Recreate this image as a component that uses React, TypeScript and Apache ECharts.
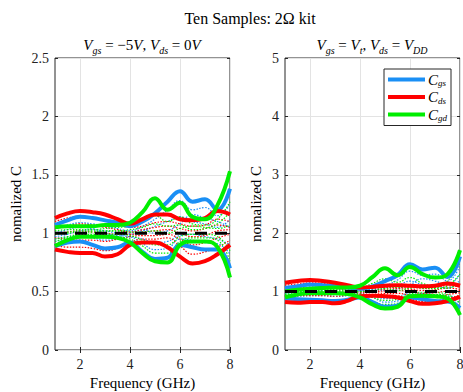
import React, { useEffect, useRef } from "react";
import * as echarts from "echarts";

// Frequency samples (GHz)
const freq = [1, 1.5, 2, 2.5, 3, 3.5, 4, 4.5, 5, 5.5, 6, 6.5, 7, 7.5, 8];
const xTicks = [2, 4, 6, 8];

// ---- Left panel: Vgs = -5V, Vds = 0V ----
const L_cgsHi = [1.07, 1.11, 1.14, 1.13, 1.11, 1.09, 1.06, 1.1, 1.17, 1.27, 1.36, 1.27, 1.29, 1.2, 1.38];
const L_cgsLo = [0.89, 0.92, 0.93, 0.9, 0.87, 0.88, 0.92, 0.84, 0.78, 0.79, 0.9, 0.88, 0.86, 0.86, 0.7];
const L_cdsHi = [1.13, 1.17, 1.19, 1.18, 1.16, 1.12, 1.08, 1.12, 1.16, 1.16, 1.12, 1.11, 1.13, 1.19, 1.16];
const L_cdsLo = [0.86, 0.84, 0.83, 0.83, 0.8, 0.82, 0.9, 0.92, 0.92, 0.88, 0.8, 0.74, 0.76, 0.82, 0.9];
const L_cgdHi = [1.05, 1.06, 1.06, 1.06, 1.07, 1.07, 1.09, 1.18, 1.3, 1.2, 1.26, 1.14, 1.12, 1.24, 1.53];
const L_cgdLo = [0.89, 0.94, 0.97, 0.97, 0.97, 0.96, 0.92, 0.83, 0.76, 0.75, 0.9, 0.93, 0.93, 0.88, 0.62];

const L_cgsDots = [
  [1.04, 1.07, 1.09, 1.08, 1.06, 1.04, 1.02, 1.06, 1.12, 1.2, 1.28, 1.2, 1.22, 1.15, 1.25],
  [0.97, 0.99, 1.02, 1.03, 1.02, 1.0, 0.99, 1.02, 1.06, 1.1, 1.14, 1.1, 1.08, 1.05, 1.12],
  [0.93, 0.95, 0.97, 0.96, 0.94, 0.95, 0.97, 0.95, 0.92, 0.93, 0.98, 0.99, 0.97, 0.95, 0.9],
  [1.0, 1.03, 1.05, 1.04, 1.0, 0.98, 0.97, 0.91, 0.86, 0.87, 0.95, 0.94, 0.92, 0.91, 0.82],
  [0.95, 0.97, 0.98, 0.97, 0.96, 0.97, 1.0, 1.03, 1.0, 1.02, 1.08, 1.16, 1.13, 1.1, 1.05],
];
const L_cdsDots = [
  [1.1, 1.13, 1.14, 1.13, 1.11, 1.08, 1.05, 1.06, 1.09, 1.1, 1.08, 1.06, 1.07, 1.12, 1.1],
  [1.04, 1.06, 1.08, 1.07, 1.05, 1.03, 1.01, 1.03, 1.05, 1.06, 1.04, 1.02, 1.04, 1.07, 1.05],
  [0.96, 0.95, 0.94, 0.94, 0.93, 0.95, 0.97, 0.98, 0.98, 0.99, 0.95, 0.9, 0.92, 0.96, 0.99],
  [0.9, 0.88, 0.88, 0.87, 0.85, 0.87, 0.92, 0.95, 0.95, 0.96, 0.89, 0.82, 0.84, 0.88, 0.94],
  [1.0, 1.01, 1.02, 1.01, 1.0, 0.99, 0.99, 1.01, 1.02, 1.03, 1.0, 0.97, 0.98, 1.02, 1.03],
];
const L_cgdDots = [
  [1.02, 1.03, 1.03, 1.03, 1.04, 1.05, 1.06, 1.1, 1.15, 1.1, 1.14, 1.08, 1.07, 1.12, 1.27],
  [0.99, 1.0, 1.01, 1.01, 1.02, 1.02, 1.03, 1.05, 1.08, 1.06, 1.07, 1.03, 1.04, 1.08, 1.18],
  [0.95, 0.97, 0.99, 0.99, 0.99, 0.99, 0.98, 0.94, 0.9, 0.9, 0.97, 0.99, 0.99, 0.97, 0.85],
  [0.93, 0.96, 0.98, 0.98, 0.98, 0.97, 0.95, 0.89, 0.83, 0.83, 0.93, 0.96, 0.96, 0.94, 0.76],
  [1.0, 1.01, 1.02, 1.02, 1.02, 1.02, 1.01, 1.01, 1.02, 1.0, 1.04, 1.06, 1.05, 1.04, 1.07],
];

// ---- Right panel: Vgs = Vt, Vds = VDD ----
const R_cgsHi = [1.06, 1.09, 1.12, 1.11, 1.09, 1.07, 1.05, 1.09, 1.18, 1.28, 1.47, 1.38, 1.41, 1.25, 1.6];
const R_cgsLo = [0.88, 0.87, 0.86, 0.85, 0.84, 0.86, 0.9, 0.82, 0.74, 0.76, 0.9, 0.87, 0.84, 0.83, 0.72];
const R_cdsHi = [1.15, 1.18, 1.2, 1.18, 1.15, 1.11, 1.07, 1.08, 1.1, 1.11, 1.1, 1.09, 1.1, 1.14, 1.1];
const R_cdsLo = [0.82, 0.81, 0.82, 0.82, 0.8, 0.84, 0.92, 0.93, 0.92, 0.9, 0.84, 0.79, 0.8, 0.84, 0.91];
const R_cgdHi = [1.0, 1.03, 1.05, 1.06, 1.07, 1.07, 1.1, 1.25, 1.4, 1.28, 1.42, 1.3, 1.24, 1.3, 1.71];
const R_cgdLo = [0.9, 0.95, 0.97, 0.97, 0.97, 0.96, 0.9, 0.78, 0.71, 0.74, 0.92, 0.93, 0.92, 0.88, 0.6];

const R_cgsDots = [
  [1.03, 1.06, 1.08, 1.07, 1.05, 1.03, 1.02, 1.05, 1.1, 1.2, 1.35, 1.28, 1.3, 1.18, 1.45],
  [0.97, 0.99, 1.01, 1.01, 1.0, 0.99, 0.99, 1.02, 1.06, 1.1, 1.18, 1.12, 1.1, 1.06, 1.2],
  [0.92, 0.92, 0.93, 0.93, 0.92, 0.93, 0.96, 0.93, 0.88, 0.9, 0.98, 0.97, 0.95, 0.93, 0.88],
  [0.99, 1.01, 1.03, 1.02, 0.99, 0.97, 0.96, 0.9, 0.82, 0.84, 0.95, 0.93, 0.9, 0.89, 0.8],
  [0.95, 0.96, 0.98, 0.97, 0.96, 0.97, 1.0, 1.04, 1.02, 1.05, 1.12, 1.22, 1.18, 1.12, 1.3],
];
const R_cdsDots = [
  [1.11, 1.13, 1.15, 1.14, 1.11, 1.08, 1.05, 1.06, 1.07, 1.08, 1.07, 1.06, 1.07, 1.1, 1.08],
  [1.04, 1.06, 1.07, 1.06, 1.05, 1.03, 1.01, 1.02, 1.04, 1.05, 1.04, 1.02, 1.03, 1.06, 1.04],
  [0.94, 0.93, 0.93, 0.93, 0.92, 0.94, 0.97, 0.98, 0.97, 0.97, 0.94, 0.9, 0.91, 0.95, 0.98],
  [0.87, 0.86, 0.86, 0.86, 0.84, 0.87, 0.93, 0.95, 0.94, 0.93, 0.88, 0.83, 0.84, 0.88, 0.94],
  [1.0, 1.01, 1.01, 1.0, 0.99, 0.99, 0.99, 1.0, 1.01, 1.02, 1.0, 0.97, 0.98, 1.01, 1.02],
];
const R_cgdDots = [
  [1.01, 1.02, 1.03, 1.03, 1.04, 1.05, 1.06, 1.14, 1.22, 1.16, 1.24, 1.14, 1.1, 1.18, 1.5],
  [0.98, 0.99, 1.0, 1.01, 1.01, 1.02, 1.03, 1.07, 1.1, 1.07, 1.1, 1.06, 1.05, 1.1, 1.3],
  [0.95, 0.97, 0.98, 0.98, 0.98, 0.98, 0.96, 0.9, 0.85, 0.87, 0.96, 0.98, 0.98, 0.95, 0.8],
  [0.92, 0.96, 0.97, 0.97, 0.97, 0.96, 0.93, 0.84, 0.78, 0.8, 0.93, 0.95, 0.95, 0.92, 0.7],
  [1.0, 1.0, 1.01, 1.01, 1.01, 1.01, 1.0, 1.02, 1.05, 1.02, 1.06, 1.08, 1.07, 1.06, 1.15],
];

const refLine = [1, 1];
const refX = [1, 8];

const BLUE = "#1a8ff5";
const RED = "#ff0000";
const GREEN = "#00ee00";
const AXIS = "#262626";
const FONT = "'Liberation Serif', 'DejaVu Serif', serif";

const pairs = (ys: number[]) => freq.map((x, i) => [x, ys[i]]);

function thick(name: string, color: string, ys: number[], ax: number) {
  return {
    type: "line",
    name,
    xAxisIndex: ax,
    yAxisIndex: ax,
    data: pairs(ys),
    smooth: 0.45,
    symbol: "none",
    lineStyle: { width: 4, color },
    itemStyle: { color },
    z: 3,
    silent: true,
  };
}
function dotted(color: string, ys: number[], ax: number, k: number) {
  return {
    type: "line",
    name: "dot" + ax + color + k,
    xAxisIndex: ax,
    yAxisIndex: ax,
    data: pairs(ys),
    smooth: 0.45,
    symbol: "none",
    lineStyle: { width: 1.2, color, type: [1.5, 1.5] },
    itemStyle: { color },
    z: 2,
    silent: true,
  };
}
function dashed(ax: number) {
  return {
    type: "line",
    name: "mean" + ax,
    xAxisIndex: ax,
    yAxisIndex: ax,
    data: refX.map((x, i) => [x, refLine[i]]),
    symbol: "none",
    lineStyle: { width: 3, color: "#000", type: [12, 8] },
    z: 4,
    silent: true,
  };
}

const rich = {
  i: { fontFamily: FONT, fontStyle: "italic", fontSize: 15, color: "#000", lineHeight: 20 },
  n: { fontFamily: FONT, fontSize: 15, color: "#000", lineHeight: 20 },
  s: { fontFamily: FONT, fontStyle: "italic", fontSize: 10, color: "#000", lineHeight: 10, verticalAlign: "bottom" },
};

export default function App() {
  const ref = useRef<HTMLDivElement>(null);
  useEffect(() => {
    if (!ref.current) return;
    const chart = echarts.init(ref.current, null, { renderer: "svg" });

    const grids = [
      { left: 55, top: 58, width: 175, height: 292 },
      { left: 285, top: 58, width: 175, height: 292 },
    ].map((g) => ({
      ...g,
      show: true,
      borderColor: AXIS,
      borderWidth: 1,
      backgroundColor: "#fff",
      containLabel: false,
      outerBoundsMode: "none",
    }));

    const xBottom = (gi: number) => ({
      type: "value",
      gridIndex: gi,
      min: 1,
      max: 8,
      position: "bottom",
      name: "Frequency (GHz)",
      nameLocation: "middle",
      nameGap: 24,
      nameTextStyle: { fontFamily: FONT, fontSize: 15, color: "#000" },
      axisLine: { show: false },
      axisTick: { show: true, inside: true, length: 3, lineStyle: { color: AXIS }, customValues: xTicks },
      axisLabel: { fontFamily: FONT, fontSize: 14, color: "#222", margin: 7, customValues: xTicks },
      splitLine: { show: true, lineStyle: { color: "#e3e3e3", width: 1 } },
    });
    const xTop = (gi: number) => ({
      type: "value",
      gridIndex: gi,
      min: 1,
      max: 8,
      position: "top",
      axisLine: { show: false },
      axisTick: { show: true, inside: true, length: 3, lineStyle: { color: AXIS }, customValues: xTicks },
      axisLabel: { show: false, customValues: xTicks },
      splitLine: { show: false },
    });
    const yLeft = (gi: number, max: number, interval: number) => ({
      type: "value",
      gridIndex: gi,
      min: 0,
      max,
      interval,
      position: "left",
      name: "nomalized C",
      nameLocation: "middle",
      nameGap: gi === 0 ? 32 : 22,
      nameTextStyle: { fontFamily: FONT, fontSize: 15, color: "#000" },
      axisLine: { show: false },
      axisTick: { show: true, inside: true, length: 3, lineStyle: { color: AXIS } },
      axisLabel: { fontFamily: FONT, fontSize: 14, color: "#222", margin: 6 },
      splitLine: { show: true, lineStyle: { color: "#e3e3e3", width: 1 } },
    });
    const yRight = (gi: number, max: number, interval: number) => ({
      type: "value",
      gridIndex: gi,
      min: 0,
      max,
      interval,
      position: "right",
      axisLine: { show: false },
      axisTick: { show: true, inside: true, length: 3, lineStyle: { color: AXIS } },
      axisLabel: { show: false },
      splitLine: { show: false },
    });

    const series: any[] = [];
    const panels = [
      { ax: 0, d: [L_cgsDots, L_cdsDots, L_cgdDots], t: [[L_cgsHi, L_cgsLo], [L_cdsHi, L_cdsLo], [L_cgdHi, L_cgdLo]] },
      { ax: 2, d: [R_cgsDots, R_cdsDots, R_cgdDots], t: [[R_cgsHi, R_cgsLo], [R_cdsHi, R_cdsLo], [R_cgdHi, R_cgdLo]] },
    ];
    const colors = [BLUE, RED, GREEN];
    const names = ["Cgs", "Cds", "Cgd"];
    panels.forEach((p) => {
      p.d.forEach((set, ci) => set.forEach((ys, k) => series.push(dotted(colors[ci], ys, p.ax, k))));
      p.t.forEach((pair, ci) => pair.forEach((ys) => series.push(thick(names[ci], colors[ci], ys, p.ax))));
      series.push(dashed(p.ax));
    });

    const subMap: Record<string, string> = { Cgs: "gs", Cds: "ds", Cgd: "gd" };

    chart.setOption({
      animation: false,
      backgroundColor: "#fff",
      grid: grids,
      xAxis: [xBottom(0), xTop(0), xBottom(1), xTop(1)],
      yAxis: [yLeft(0, 2.5, 0.5), yRight(0, 2.5, 0.5), yLeft(1, 5, 1), yRight(1, 5, 1)],
      legend: {
        data: names,
        orient: "vertical",
        left: 384,
        top: 69,
        icon: "rect",
        itemWidth: 37,
        itemHeight: 4,
        itemGap: 2,
        padding: [3, 4, 3, 4],
        backgroundColor: "#fff",
        borderColor: AXIS,
        borderWidth: 1,
        borderRadius: 0,
        selectedMode: false,
        formatter: (n: string) => "{c|C}{s|" + subMap[n] + "}",
        textStyle: {
          padding: [0, 0, 0, -2],
          rich: {
            c: { fontFamily: FONT, fontStyle: "italic", fontSize: 15, color: "#000", lineHeight: 16 },
            s: { fontFamily: FONT, fontStyle: "italic", fontSize: 9, color: "#000", lineHeight: 9, verticalAlign: "bottom" },
          },
        },
      },
      graphic: [
        {
          type: "text",
          x: 250,
          y: 18,
          style: { text: "Ten Samples: 2Ω kit", fontFamily: FONT, fontSize: 16, fill: "#000", align: "center", verticalAlign: "middle" },
        },
        {
          type: "text",
          x: 142,
          y: 45,
          style: {
            text: "{i|V}{s|gs}{n| = −5}{i|V}{n|, }{i|V}{s|ds}{n| = 0}{i|V}",
            rich,
            align: "center",
            verticalAlign: "middle",
          },
        },
        {
          type: "text",
          x: 372,
          y: 45,
          style: {
            text: "{i|V}{s|gs}{n| = }{i|V}{s|t}{n|, }{i|V}{s|ds}{n| = }{i|V}{s|DD}",
            rich,
            align: "center",
            verticalAlign: "middle",
          },
        },
      ],
      series,
    });
    return () => chart.dispose();
  }, []);
  return <div ref={ref} style={{ width: 463, height: 392, position: "absolute", left: 0, top: 0 }} />;
}
